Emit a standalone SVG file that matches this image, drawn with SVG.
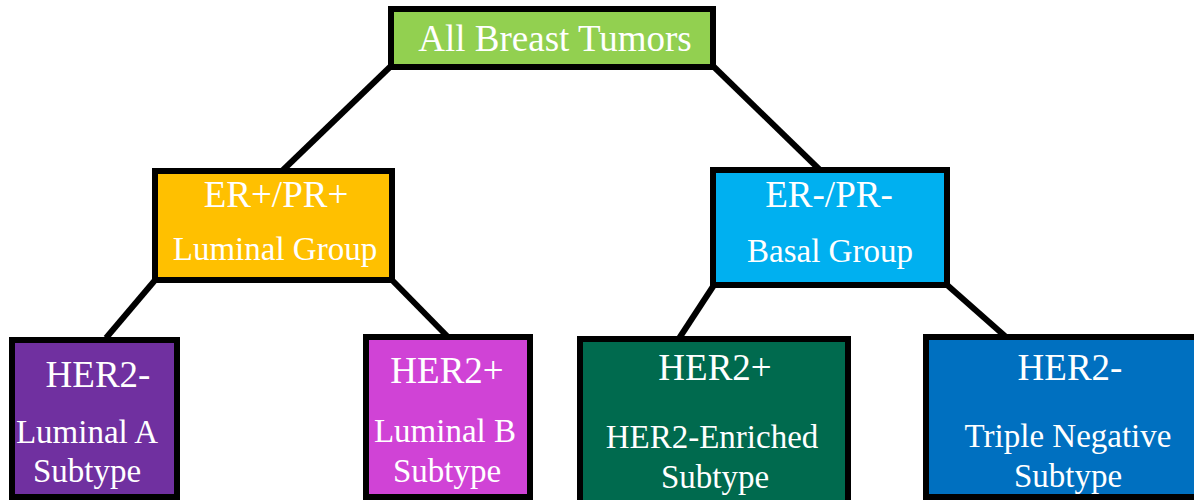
<svg xmlns="http://www.w3.org/2000/svg" width="1194" height="500" viewBox="0 0 1194 500">
<style>
.box{stroke:#000;stroke-width:6}
.conn line{stroke:#000;stroke-width:6}
text{font-family:"Liberation Serif","Times New Roman",serif;fill:#fff;text-anchor:middle}
.big{font-size:37px}
.small{font-size:33px}
</style>
<rect width="1194" height="500" fill="#fff"/>
<g id="connectors" class="conn">
<line x1="391" y1="66" x2="282" y2="171"/>
<line x1="713" y1="66" x2="821" y2="171"/>
<line x1="156" y1="279" x2="106" y2="338"/>
<line x1="390" y1="278" x2="448" y2="337"/>
<line x1="714" y1="285" x2="678" y2="340"/>
<line x1="946" y1="284" x2="1006" y2="337"/>
</g>
<g id="all-tumors">
<rect class="box" x="391" y="9" width="322" height="58" fill="#92D050"/>
<text class="big" x="555" y="51">All Breast Tumors</text>
</g>
<g id="luminal-group">
<rect class="box" x="155" y="171" width="237" height="109" fill="#FFC000"/>
<text class="big" x="276" y="207">ER+/PR+</text>
<text class="small" x="275" y="260">Luminal Group</text>
</g>
<g id="basal-group">
<rect class="box" x="713" y="170" width="234" height="115" fill="#00B0F0"/>
<text class="big" x="829" y="207">ER-/PR-</text>
<text class="small" x="830" y="262">Basal Group</text>
</g>
<g id="luminal-a">
<rect class="box" x="12" y="340" width="165" height="157" fill="#7030A0"/>
<text class="big" x="98" y="387">HER2-</text>
<text class="small" x="87" y="443">Luminal A</text>
<text class="small" x="87" y="482">Subtype</text>
</g>
<g id="luminal-b">
<rect class="box" x="366" y="337" width="164" height="160" fill="#D043D6"/>
<text class="big" x="447" y="383">HER2+</text>
<text class="small" x="445" y="442">Luminal B</text>
<text class="small" x="447" y="482">Subtype</text>
</g>
<g id="her2-enriched">
<rect class="box" x="580" y="339" width="268" height="170" fill="#006A4E"/>
<text class="big" x="715" y="380">HER2+</text>
<text class="small" x="712" y="448">HER2-Enriched</text>
<text class="small" x="715" y="488">Subtype</text>
</g>
<g id="triple-negative">
<rect class="box" x="926" y="337" width="300" height="160" fill="#0070C0"/>
<text class="big" x="1070" y="380">HER2-</text>
<text class="small" x="1068" y="447">Triple Negative</text>
<text class="small" x="1068" y="487">Subtype</text>
</g>
</svg>
